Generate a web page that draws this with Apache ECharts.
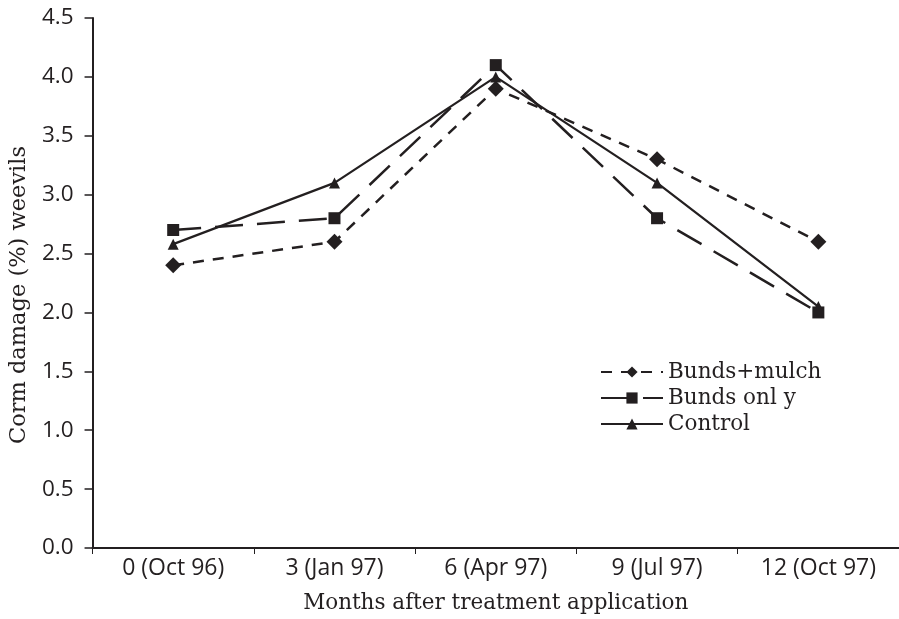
<!DOCTYPE html>
<html>
<head>
<meta charset="utf-8">
<script src="https://cdn.jsdelivr.net/npm/echarts@6/dist/echarts.min.js"></script>
<style>
html,body{margin:0;padding:0;background:#fff;}
#chart{width:899px;height:619px;}
</style>
</head>
<body>
<div id="chart"></div>
<script>
var categories = ['0 (Oct 96)', '3 (Jan 97)', '6 (Apr 97)', '9 (Jul 97)', '12 (Oct 97)'];
var bundsMulch = [2.4, 2.6, 3.9, 3.3, 2.6];
var bundsOnly = [2.7, 2.8, 4.1, 2.8, 2.0];
var control = [2.58, 3.1, 4.0, 3.1, 2.05];
var seriesNames = ['Bunds+mulch', 'Bunds onl y', 'Control'];

var ink = '#231f20';
var chart = echarts.init(document.getElementById('chart'));
chart.setOption({
  animation: false,
  backgroundColor: '#fff',
  grid: { left: 92, top: 18, bottom: 70, right: -4, containLabel: false },
  legend: {
    orient: 'vertical',
    left: 595,
    top: 356,
    itemWidth: 62,
    itemHeight: 14,
    itemGap: 4,
    textStyle: { fontFamily: 'DejaVu Serif', fontSize: 21.5, color: ink, padding: [0,0,0,0] },
    data: seriesNames
  },
  xAxis: {
    type: 'category',
    data: categories,
    boundaryGap: true,
    name: 'Months after treatment application',
    nameLocation: 'middle',
    nameGap: 44,
    nameTextStyle: { fontFamily: 'DejaVu Serif', fontSize: 21.5, color: ink },
    axisLine: { lineStyle: { color: ink, width: 2 } },
    axisTick: { show: true, interval: 0, length: 6, lineStyle: { color: ink, width: 1 } },
    axisLabel: { fontFamily: 'Open Sans', fontSize: 23, color: ink, margin: 9, interval: 0 },
    splitLine: { show: false }
  },
  yAxis: {
    type: 'value',
    min: 0,
    max: 4.5,
    interval: 0.5,
    name: 'Corm damage (%) weevils',
    nameLocation: 'middle',
    nameGap: 58,
    nameTextStyle: { fontFamily: 'DejaVu Serif', fontSize: 22.5, color: ink, padding: [0, 24, 0, 0] },
    axisLine: { show: true, lineStyle: { color: ink, width: 2 } },
    axisTick: { show: true, length: 8, lineStyle: { color: ink, width: 1.5 } },
    axisLabel: { fontFamily: 'Open Sans', fontSize: 22.5, color: ink, margin: 19,
      formatter: function (v) { return v.toFixed(1); } },
    splitLine: { show: false }
  },
  series: [
    {
      name: seriesNames[0], type: 'line', data: bundsMulch,
      symbol: 'diamond', symbolSize: 16,
      itemStyle: { color: ink },
      lineStyle: { color: ink, width: 2.5, type: [11, 9] }
    },
    {
      name: seriesNames[1], type: 'line', data: bundsOnly,
      symbol: 'rect', symbolSize: 12,
      itemStyle: { color: ink },
      lineStyle: { color: ink, width: 2.5, type: [28, 14] }
    },
    {
      name: seriesNames[2], type: 'line', data: control,
      symbol: 'triangle', symbolSize: 11,
      itemStyle: { color: ink },
      lineStyle: { color: ink, width: 2.2, type: 'solid' }
    }
  ]
});
</script>
</body>
</html>
